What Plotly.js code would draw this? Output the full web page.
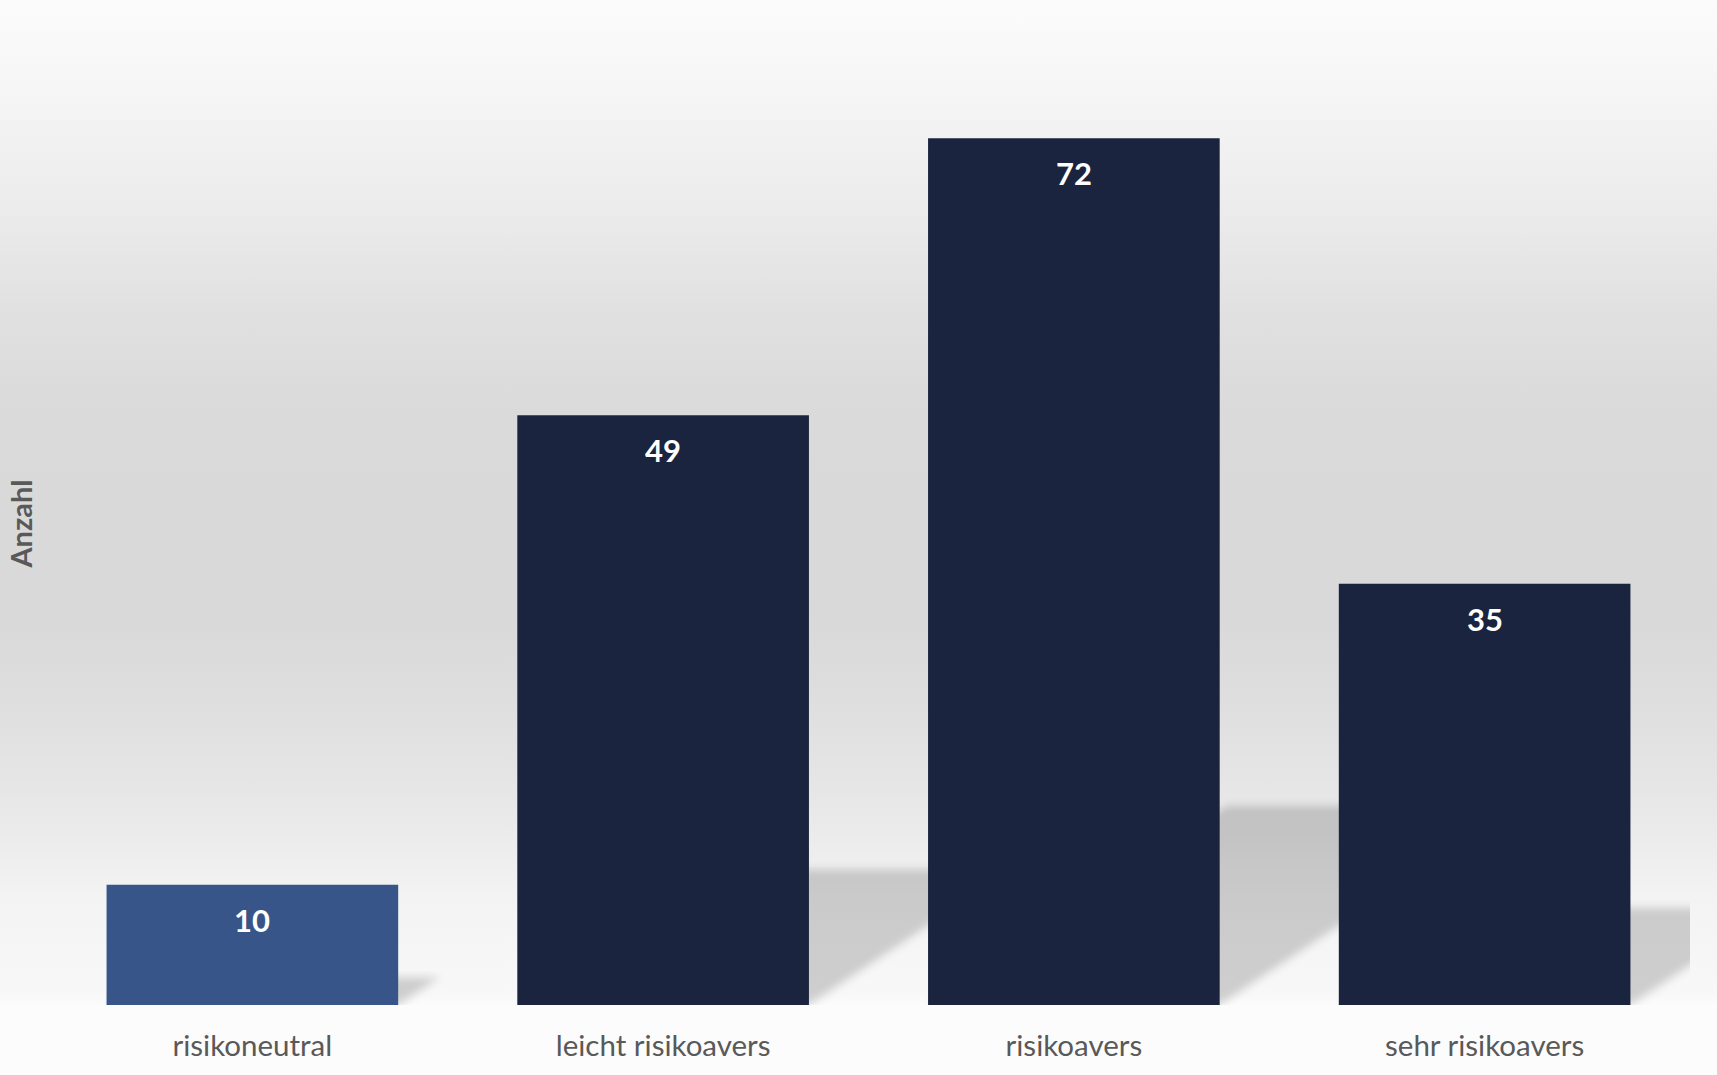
<!DOCTYPE html>
<html>
<head>
<meta charset="utf-8">
<script src="https://cdn.plot.ly/plotly-3.0.1.min.js"></script>
<style>
  html, body { margin: 0; padding: 0; }
  #chart {
    width: 1717px; height: 1075px;
    background: linear-gradient(to bottom,
      #fbfbfb 0px, #f9f9f9 50px, #f3f3f3 120px, #ececec 205px, #e1e1e1 308px,
      #dadada 411px, #d9d9d9 617px, #dddddd 685px, #e6e6e6 788px, #eeeeee 857px,
      #f3f3f3 898px, #f8f8f8 994px, #fcfcfc 1006px, #fcfcfc 1075px);
  }
</style>
</head>
<body>
<div id="chart"></div>
<script>
const categories = ["risikoneutral", "leicht risikoavers", "risikoavers", "sehr risikoavers"];
const counts = [10, 49, 72, 35];
const barColors = ["#375589", "#1a243e", "#1a243e", "#1a243e"];
const yAxisTitle = "Anzahl";

const idx = categories.map((c, i) => i);
const barWidth = 0.71;
const shadowHeightRatio = 0.23;
const shadowShift = 0.0101; // x-units per count

const shapes = counts.map((v, i) => {
  const h = v * shadowHeightRatio;
  const dx = v * shadowShift;
  const l = i - barWidth / 2, r = i + barWidth / 2;
  return {
    type: "path", xref: "x", yref: "y", layer: "below",
    path: `M ${l},0 L ${r},0 L ${r + dx},${h} L ${l + dx},${h} Z`,
    fillcolor: "rgba(0,0,0,0.17)", line: { width: 0 }
  };
});

const annotations = counts.map((v, i) => ({
  x: i, y: v, xref: "x", yref: "y", text: String(v), showarrow: false,
  yanchor: "middle", yshift: -35,
  font: { family: "Lato, 'Open Sans', sans-serif", size: 31, color: "#ffffff", weight: "bold" }
}));

const trace = {
  type: "bar", x: idx, y: counts, width: barWidth,
  marker: { color: barColors, line: { width: 0 } },
  hoverinfo: "x+y"
};

const layout = {
  width: 1717, height: 1075,
  margin: { l: 47, r: 27, t: 42, b: 70 },
  paper_bgcolor: "rgba(0,0,0,0)", plot_bgcolor: "rgba(0,0,0,0)",
  showlegend: false,
  font: { family: "Lato, 'Open Sans', sans-serif", color: "#595959" },
  xaxis: {
    type: "linear", range: [-0.5, 3.5], tickvals: idx, ticktext: categories,
    ticks: "", showgrid: false, zeroline: false, showline: false,
    tickfont: { size: 29.5, color: "#595959" }, ticklabelstandoff: 20
  },
  yaxis: {
    range: [0, 80], showticklabels: false, showgrid: false, zeroline: false,
    showline: false, ticks: "", automargin: false,
    title: { text: yAxisTitle, standoff: 4, font: { size: 29, color: "#595959", weight: "bold" } }
  },
  shapes: shapes,
  annotations: annotations
};

Plotly.newPlot("chart", [trace], layout, { displayModeBar: false, staticPlot: true }).then(() => {
  const svg = document.querySelector("#chart .main-svg");
  const ns = "http://www.w3.org/2000/svg";
  let defs = svg.querySelector("defs");
  const f = document.createElementNS(ns, "filter");
  f.setAttribute("id", "shblur");
  f.setAttribute("x", "-20%"); f.setAttribute("y", "-20%");
  f.setAttribute("width", "140%"); f.setAttribute("height", "140%");
  const b = document.createElementNS(ns, "feGaussianBlur");
  b.setAttribute("stdDeviation", "4");
  f.appendChild(b);
  defs.appendChild(f);
  document.querySelectorAll("#chart .shapelayer path").forEach(p => p.setAttribute("filter", "url(#shblur)"));
});
</script>
</body>
</html>
